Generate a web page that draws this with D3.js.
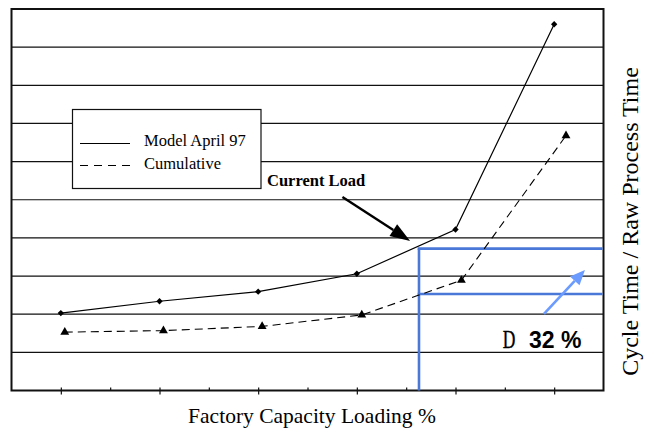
<!DOCTYPE html>
<html>
<head>
<meta charset="utf-8">
<script src="https://cdn.jsdelivr.net/npm/d3@7/dist/d3.min.js"></script>
<style>
  html, body { margin: 0; padding: 0; background: #fff; }
  svg { display: block; }
</style>
</head>
<body>
<svg id="chart" width="653" height="435"></svg>
<script>
// ---- data ----
const loadPositions = [1, 2, 3, 4, 5, 6];
const modelApril97 = [2.03, 2.34, 2.59, 3.06, 4.22, 9.60];
const cumulativePositions = [1.04, 2.04, 3.04, 4.05, 5.06, 6.12];
const cumulative = [1.53, 1.57, 1.68, 1.98, 2.89, 6.68];
const seriesNames = ["Model April 97", "Cumulative"];
const xTickValues = [1, 1.5, 2, 2.5, 3, 3.5, 4, 4.5, 5, 5.5, 6];
const yGridValues = [1, 2, 3, 4, 5, 6, 7, 8, 9];
const currentLoad = 4.63;
const currentLoadLevels = [3.72, 2.53];
const deltaLabel = ["D", "32 %"];
const xTitle = "Factory Capacity Loading %";
const yTitle = "Cycle Time / Raw Process Time";
const annotationLabel = "Current Load";

// ---- layout ----
const svg = d3.select("#chart");
const L = 11.5, R = 603.5, T = 9, B = 390.5;
const x = d3.scaleLinear().domain([0.5, 6.5]).range([L, R]);
const y = d3.scaleLinear().domain([0, 10]).range([B, T]);

// gridlines
svg.append("g").selectAll("line").data(yGridValues).join("line")
  .attr("x1", L).attr("x2", R)
  .attr("y1", d => y(d)).attr("y2", d => y(d))
  .attr("stroke", "#111").attr("stroke-width", 1.2);

// x-axis ticks
const xAxis = d3.axisBottom(x).tickValues(xTickValues).tickFormat("")
  .tickSizeOuter(0).tickSizeInner(0);
const gx = svg.append("g").attr("transform", `translate(0,${B})`).call(xAxis);
gx.select(".domain").remove();
gx.selectAll(".tick line")
  .attr("y1", -3)
  .attr("y2", d => Number.isInteger(d) ? 4 : 0)
  .attr("stroke", "#111").attr("stroke-width", 1.2);

// frame
svg.append("rect").attr("x", L).attr("y", T).attr("width", R - L).attr("height", B - T)
  .attr("fill", "none").attr("stroke", "#111").attr("stroke-width", 2);

// blue current load lines
const blue = "#4a78d8";
svg.append("line")
  .attr("x1", x(currentLoad)).attr("x2", x(currentLoad))
  .attr("y1", y(currentLoadLevels[0])).attr("y2", B)
  .attr("stroke", blue).attr("stroke-width", 2.6);
svg.append("g").selectAll("line").data(currentLoadLevels).join("line")
  .attr("x1", x(currentLoad) - 1.3).attr("x2", R - 1)
  .attr("y1", d => y(d)).attr("y2", d => y(d))
  .attr("stroke", blue).attr("stroke-width", 2.6);

// series
const modelData = loadPositions.map((p, i) => [p, modelApril97[i]]);
const cumData = cumulativePositions.map((p, i) => [p, cumulative[i]]);
const line = d3.line().x(d => x(d[0])).y(d => y(d[1]));

svg.append("path").datum(modelData).attr("d", line)
  .attr("fill", "none").attr("stroke", "#000").attr("stroke-width", 1.2);
svg.append("path").datum(cumData).attr("d", line)
  .attr("fill", "none").attr("stroke", "#000").attr("stroke-width", 1.1)
  .attr("stroke-dasharray", "8,5");

svg.append("g").selectAll("path").data(modelData).join("path")
  .attr("d", d3.symbol(d3.symbolSquare, 20))
  .attr("transform", d => `translate(${x(d[0])},${y(d[1])}) rotate(45)`)
  .attr("fill", "#000");
svg.append("g").selectAll("path").data(cumData).join("path")
  .attr("d", d3.symbol(d3.symbolTriangle, 34))
  .attr("transform", d => `translate(${x(d[0])},${y(d[1])})`)
  .attr("fill", "#000");

// arrow helper
function arrow(x1, y1, x2, y2, color, width, headLen, headHalf) {
  const ang = Math.atan2(y2 - y1, x2 - x1);
  const bx = x2 - headLen * Math.cos(ang), by = y2 - headLen * Math.sin(ang);
  svg.append("line").attr("x1", x1).attr("y1", y1).attr("x2", bx).attr("y2", by)
    .attr("stroke", color).attr("stroke-width", width);
  const px = -Math.sin(ang) * headHalf, py = Math.cos(ang) * headHalf;
  svg.append("polygon")
    .attr("points", `${x2},${y2} ${bx + px},${by + py} ${bx - px},${by - py}`)
    .attr("fill", color);
}

// current load annotation
svg.append("text").attr("x", x(3.09)).attr("y", y(5.37))
  .attr("font-family", "Liberation Serif, Times New Roman, serif")
  .attr("font-weight", "bold").attr("font-size", 16.5).attr("fill", "#000")
  .text(annotationLabel);
arrow(x(3.854), y(5.07), x(4.54), y(3.92), "#000", 2.4, 20, 7);

// blue arrow
arrow(x(5.897), y(2.006), x(6.312), y(3.16), "#6b9bff", 2.6, 15, 6.5);

// delta label
svg.append("text")
  .attr("transform", `translate(${x(5.48)},${y(1.107)}) scale(0.7,1)`)
  .attr("font-family", "Liberation Serif, Times New Roman, serif")
  .attr("font-size", 25).attr("stroke", "#000").attr("stroke-width", 0.4)
  .attr("fill", "#000").text(deltaLabel[0]);
svg.append("text").attr("x", x(5.745)).attr("y", y(1.107))
  .attr("font-family", "Liberation Sans, Arial, sans-serif")
  .attr("font-weight", "bold").attr("font-size", 23).attr("fill", "#000")
  .text(deltaLabel[1]);

// legend
const lg = svg.append("g");
lg.append("rect").attr("x", 72.5).attr("y", 109.5).attr("width", 188.5).attr("height", 79)
  .attr("fill", "#fff").attr("stroke", "#111").attr("stroke-width", 1.2);
lg.append("line").attr("x1", 80).attr("x2", 130).attr("y1", 143.5).attr("y2", 143.5)
  .attr("stroke", "#000").attr("stroke-width", 1.2);
lg.append("line").attr("x1", 80).attr("x2", 132).attr("y1", 165.5).attr("y2", 165.5)
  .attr("stroke", "#000").attr("stroke-width", 1.1).attr("stroke-dasharray", "8,6");
lg.selectAll("text").data(seriesNames).join("text")
  .attr("x", 144).attr("y", (d, i) => 146 + i * 22.5)
  .attr("font-family", "Liberation Serif, Times New Roman, serif")
  .attr("font-size", 16.5).attr("fill", "#000").text(d => d);

// axis titles
svg.append("text").attr("x", (188 + 436) / 2).attr("y", 423)
  .attr("text-anchor", "middle")
  .attr("font-family", "Liberation Serif, Times New Roman, serif")
  .attr("font-size", 21.5).attr("fill", "#000").text(xTitle);
svg.append("text").attr("transform", `translate(638,221.5) rotate(-90)`)
  .attr("text-anchor", "middle")
  .attr("font-family", "Liberation Serif, Times New Roman, serif")
  .attr("font-size", 24).attr("fill", "#000").text(yTitle);
</script>
</body>
</html>
